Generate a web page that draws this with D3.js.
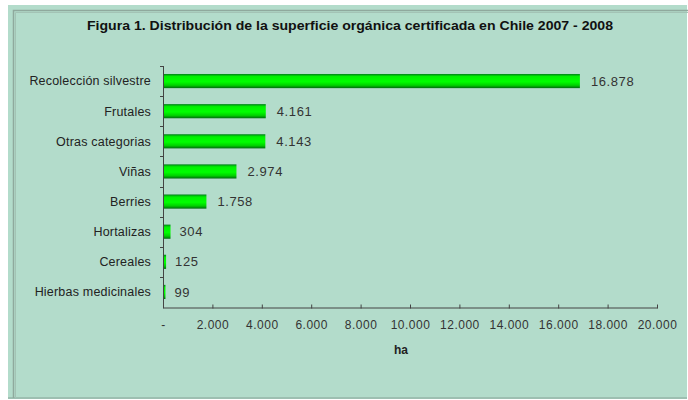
<!DOCTYPE html>
<html><head><meta charset="utf-8">
<script src="https://cdn.jsdelivr.net/npm/d3@7"></script>
<style>body{margin:0;background:#fff}svg{display:block}</style>
</head><body>
<svg id="c" width="688" height="400"></svg>
<script>
const categories = ["Recolección silvestre","Frutales","Otras categorias","Viñas","Berries","Hortalizas","Cereales","Hierbas medicinales"];
const values = [16878, 4161, 4143, 2974, 1758, 304, 125, 99];
const valueLabels = ["16.878","4.161","4.143","2.974","1.758","304","125","99"];
const xTicks = [0,2000,4000,6000,8000,10000,12000,14000,16000,18000,20000];
const xTickLabels = ["-","2.000","4.000","6.000","8.000","10.000","12.000","14.000","16.000","18.000","20.000"];
const title = "Figura 1. Distribución de la superficie orgánica certificada en Chile 2007 - 2008";
const xTitle = "ha";

const svg = d3.select("#c");
const font = "'Liberation Sans', Arial, sans-serif";

// background panel
svg.append("rect").attr("x",8).attr("y",5).attr("width",679).attr("height",394).attr("fill","#b3dccb");
svg.append("rect").attr("x",8).attr("y",397).attr("width",679).attr("height",2).attr("fill","#9dbfb1");
svg.append("path").attr("d","M13.5,398 V10.5 H688").attr("fill","none").attr("stroke","#8fa99d").attr("stroke-width",1.5);
svg.append("path").attr("d","M15.5,398 V12.5 H688").attr("fill","none").attr("stroke","#a3c3b5").attr("stroke-width",1);

const defs = svg.append("defs");
const g = defs.append("linearGradient").attr("id","bg").attr("x1",0).attr("y1",0).attr("x2",0).attr("y2",1);
g.append("stop").attr("offset","0%").attr("stop-color","#00801a");
g.append("stop").attr("offset","18%").attr("stop-color","#00f000");
g.append("stop").attr("offset","55%").attr("stop-color","#00ff00");
g.append("stop").attr("offset","80%").attr("stop-color","#00d000");
g.append("stop").attr("offset","100%").attr("stop-color","#006a10");

const x = d3.scaleLinear().domain([0,20000]).range([163,657]);
const y = d3.scaleBand().domain(categories).range([66,307]).paddingInner(0.53).paddingOuter(0.265);

svg.append("text").attr("x",350).attr("y",30).attr("text-anchor","middle")
  .attr("font-family",font).attr("font-weight","bold").attr("font-size",12).attr("fill","#111")
  .attr("textLength",526).attr("lengthAdjust","spacingAndGlyphs").text(title);

// bars
svg.selectAll("rect.bar").data(values).join("rect").attr("class","bar")
  .attr("x",x(0)).attr("y",(d,i)=>y(categories[i]))
  .attr("width",d=>Math.max(1.5,x(d)-x(0))).attr("height",y.bandwidth())
  .attr("fill","url(#bg)");

// value labels
svg.selectAll("text.val").data(values).join("text").attr("class","val")
  .attr("x",d=>x(d)+ (d<1000?9:11)).attr("y",(d,i)=>y(categories[i])+y.bandwidth()/2)
  .attr("dy","0.36em").attr("font-family",font).attr("font-size",13).attr("letter-spacing",0.6).attr("fill","#333")
  .text((d,i)=>valueLabels[i]);

// y axis
const yStep = y.step();
const yAxisG = svg.append("g");
yAxisG.append("line").attr("x1",163.5).attr("x2",163.5).attr("y1",66).attr("y2",307).attr("stroke","#444");
yAxisG.selectAll("line.t").data(d3.range(categories.length)).join("line").attr("class","t")
  .attr("x1",160).attr("x2",163.5).attr("y1",i=>Math.round(66+i*yStep)+0.5).attr("y2",i=>Math.round(66+i*yStep)+0.5).attr("stroke","#444");
yAxisG.selectAll("text").data(categories).join("text")
  .attr("x",151).attr("y",d=>y(d)+y.bandwidth()/2).attr("dy","0.35em").attr("text-anchor","end")
  .attr("font-family",font).attr("font-size",12.5).attr("letter-spacing",0.2).attr("fill","#222").text(d=>d);

// x axis
const xAxis = d3.axisBottom(x).tickValues(xTicks).tickFormat((d,i)=>xTickLabels[i]).tickSizeInner(-3).tickSizeOuter(0).tickPadding(13);
const xg = svg.append("g").attr("transform","translate(0,307.5)").call(xAxis);
xg.select(".domain").attr("stroke","#444");
xg.selectAll(".tick line").attr("stroke","#444").attr("y1",1);
xg.selectAll(".tick text").attr("font-family",font).attr("font-size",12).attr("letter-spacing",0.5).attr("fill","#333");

svg.append("text").attr("x",401).attr("y",354).attr("text-anchor","middle")
  .attr("font-family",font).attr("font-weight","bold").attr("font-size",12).attr("fill","#222").text(xTitle);
</script>
</body></html>
